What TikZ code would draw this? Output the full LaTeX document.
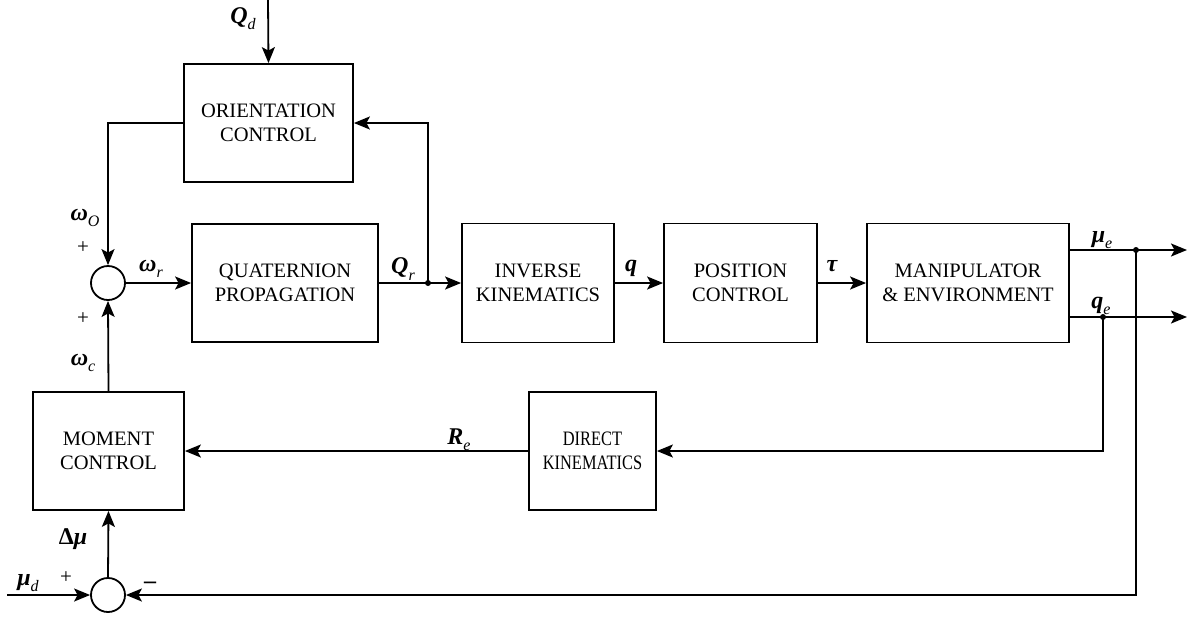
\documentclass[tikz,border=0pt]{standalone}
\usepackage{fontspec}
\usepackage{graphicx}
\setmainfont{Liberation Serif}
\usetikzlibrary{arrows.meta}
\newcommand{\vsym}[2]{{\bfseries\itshape #1}\raisebox{-0.26em}{\fontsize{16}{16}\selectfont\itshape #2}}
\newcommand{\narrow}[1]{\scalebox{0.8}[1]{#1}}
\begin{document}
\begin{tikzpicture}[x=1pt,y=-1pt,
  line width=1.8pt,
  >={Stealth[length=16pt,width=13pt,inset=3.5pt]},
  block/.style={draw,rectangle,align=center,inner sep=0pt,
    font=\fontsize{20.5}{23.5}\selectfont},
  sumnode/.style={draw,circle,minimum size=34pt,inner sep=0pt},
  lbl/.style={font=\fontsize{24}{24}\selectfont,inner sep=0pt},
  sgn/.style={font=\fontsize{21}{21}\selectfont,inner sep=0pt},
  junct/.style={circle,fill,minimum size=6pt,inner sep=0pt}]
\useasboundingbox (0,0) rectangle (1194,619);

% blocks
\node[block,minimum width=169pt,minimum height=118pt] (orient) at (268.5,123) {ORIENTATION\\CONTROL};
\node[block,minimum width=186pt,minimum height=118pt] (quat) at (285,283) {QUATERNION\\PROPAGATION};
\node[block,minimum width=152pt,minimum height=119pt] (inv) at (538,283) {INVERSE\\KINEMATICS};
\node[block,minimum width=153pt,minimum height=119pt] (pos) at (740.5,283) {POSITION\\CONTROL};
\node[block,minimum width=202pt,minimum height=119pt] (manip) at (968,283) {MANIPULATOR\\\& ENVIRONMENT};
\node[block,minimum width=127pt,minimum height=118pt] (direct) at (592.5,451) {\narrow{DIRECT}\\\narrow{KINEMATICS}};
\node[block,minimum width=151pt,minimum height=118pt] (moment) at (108.5,451) {MOMENT\\CONTROL};

% summing junctions
\node[sumnode] (sum1) at (108,283) {};
\node[sumnode] (sum2) at (108,595) {};

% branch points and free ends
\coordinate (qdin) at (268,0);
\coordinate (mudin) at (7,595);
\node[junct] (jq) at (428,283) {};
\node[junct] (jmu) at (1136,250) {};
\node[junct] (jqe) at (1103,317) {};
\coordinate (muout) at (1187,250);
\coordinate (qeout) at (1187,317);

% connectors
\draw[->] (qdin) -- (orient.north);
\draw[->] (orient.west) -| (sum1.north);
\draw[->] (sum1.east) -- (quat.west);
\draw (quat.east) -- (jq.center);
\draw[->] (jq.center) -- (inv.west);
\draw[->] (jq.center) |- (orient.east);
\draw[->] (inv.east) -- (pos.west);
\draw[->] (pos.east) -- (manip.west);
\draw[->] ([yshift=33pt]manip.east) -- (muout);
\draw[->] ([yshift=-34pt]manip.east) -- (qeout);
\draw[->] (jqe.center) |- (direct.east);
\draw[->] (direct.west) -- (moment.east);
\draw[->] (moment.north) -- (sum1.south);
\draw[->] (jmu.center) |- (sum2.east);
\draw[->] (sum2.north) -- (moment.south);
\draw[->] (mudin) -- (sum2.west);

% signal labels
\node[lbl] at (243,19) {\vsym{Q}{d}};
\node[lbl] at (85,218) {\vsym{ω}{O}};
\node[sgn] at (83,248) {+};
\node[sgn] at (83,319) {+};
\node[lbl] at (83,363) {\vsym{ω}{c}};
\node[lbl] at (151,269) {\vsym{ω}{r}};
\node[lbl] at (403,269) {\vsym{Q}{r}};
\node[lbl] at (631,269) {\vsym{q}{}};
\node[lbl] at (832,269) {\vsym{τ}{}};
\node[lbl] at (1102,240) {\vsym{μ}{e}};
\node[lbl] at (1101,306) {\vsym{q}{e}};
\node[lbl] at (459,440) {\vsym{R}{e}};
\node[lbl] at (73,539) {{\bfseries Δ}{\bfseries\itshape μ}};
\node[lbl] at (28,583) {\vsym{μ}{d}};
\node[sgn] at (66,578) {+};
\node[lbl] at (150,585) {\bfseries –};
\end{tikzpicture}
\end{document}
